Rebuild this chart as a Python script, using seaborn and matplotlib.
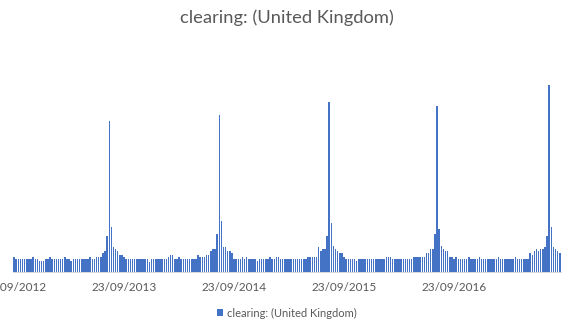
import matplotlib
matplotlib.use("Agg")
import matplotlib.pyplot as plt
import seaborn as sns
import pandas as pd
from matplotlib.patches import Patch

# ---- data (weekly interest, index 0 = week of 23/09/2012) ----
seg_2012_13 = [8, 7, 7, 7, 7, 7, 7, 7, 7, 8, 7, 7, 6, 6, 6, 7, 7, 8, 7, 7,
               7, 7, 7, 7, 8, 7, 7, 6, 7, 7, 7, 7, 7, 7, 7, 7, 8, 7, 7, 8,
               8, 8, 10, 11, 19, 81, 24, 13, 12, 11, 9, 9]
seg_2013_14 = [8, 7, 7, 7, 7, 7, 7, 7, 7, 7, 7, 7, 5, 7, 7, 7, 7, 7, 7, 7,
               7, 8, 9, 9, 7, 7, 8, 7, 7, 7, 7, 7, 7, 7, 7, 9, 8, 8, 8, 9,
               9, 11, 12, 12, 20, 84, 27, 13, 13, 11, 11, 10]
seg_2014_15 = [7, 7, 7, 7, 8, 7, 8, 7, 7, 7, 7, 6, 7, 7, 7, 7, 7, 8, 7, 7,
               8, 8, 7, 7, 7, 7, 7, 7, 7, 7, 7, 7, 7, 7, 7, 8, 8, 8, 8, 8,
               13, 11, 12, 12, 19, 91, 26, 14, 12, 11, 10, 10]
seg_2015_16 = [8, 7, 7, 7, 7, 7, 6, 7, 7, 7, 7, 7, 7, 7, 7, 7, 7, 7, 7, 7,
               8, 8, 8, 7, 7, 7, 7, 7, 7, 7, 7, 7, 7, 8, 8, 8, 8, 8, 8, 10,
               10, 12, 12, 20, 89, 23, 14, 12, 11, 11, 8, 8]
seg_2016_17 = [7, 8, 7, 7, 7, 7, 7, 8, 7, 7, 7, 7, 8, 7, 7, 7, 7, 7, 7, 7,
               7, 8, 7, 7, 7, 7, 7, 7, 7, 8, 7, 7, 7, 7, 7, 7, 10, 9, 11, 12,
               11, 12, 12, 13, 19, 100, 24, 13, 12, 11, 10]

values = seg_2012_13 + seg_2013_14 + seg_2014_15 + seg_2015_16 + seg_2016_17
weeks = list(range(len(values)))
tick_labels = ["23/09/2012", "23/09/2013", "23/09/2014", "23/09/2015", "23/09/2016"]
series_name = "clearing: (United Kingdom)"
title = "clearing: (United Kingdom)"

df = pd.DataFrame({"week": weeks, "value": values})

sns.set_theme(style="white")
plt.rcParams["font.family"] = ["Lato", "DejaVu Sans"]

W, H = 573, 331
fig = plt.figure(figsize=(W / 100, H / 100), dpi=100)
n = len(values)
step = 2.115
left_px = 14.1 - step / 2
ax = fig.add_axes([left_px / W, (H - 271.7) / H, n * step / W, 224.0 / H])

bar_color = "#4472C4"
sns.barplot(data=df, x="week", y="value", color=bar_color, width=0.7,
            saturation=1, ax=ax, linewidth=0)
for p in ax.patches:
    p.set_antialiased(True)
    p.set_edgecolor("none")

ax.set_xlim(-0.5, n - 0.5)
ax.set_ylim(0, 120)
ax.set_xlabel("")
ax.set_ylabel("")
ax.set_yticks([])
ax.set_xticks([52 * k for k in range(len(tick_labels))])
ax.set_xticklabels(tick_labels, fontsize=8.5, color="#595959")
ax.tick_params(axis="x", length=0, pad=7.5)
for s in ["top", "left", "right"]:
    ax.spines[s].set_visible(False)
ax.spines["bottom"].set_color("#D9D9D9")
ax.spines["bottom"].set_linewidth(0.75)
ax.patch.set_alpha(0)

fig.text(0.5, 1 - 18 / H, title, ha="center", va="center", fontsize=13.2, color="#595959")

handles = [Patch(facecolor=bar_color, edgecolor="none", label=series_name)]
fig.legend(handles=handles, loc="center", bbox_to_anchor=(0.5, 1 - 313 / H),
           frameon=False, fontsize=8, handlelength=0.6, handleheight=0.6,
           handletextpad=0.3, labelcolor="#595959")

fig.savefig("out.png", dpi=100)
